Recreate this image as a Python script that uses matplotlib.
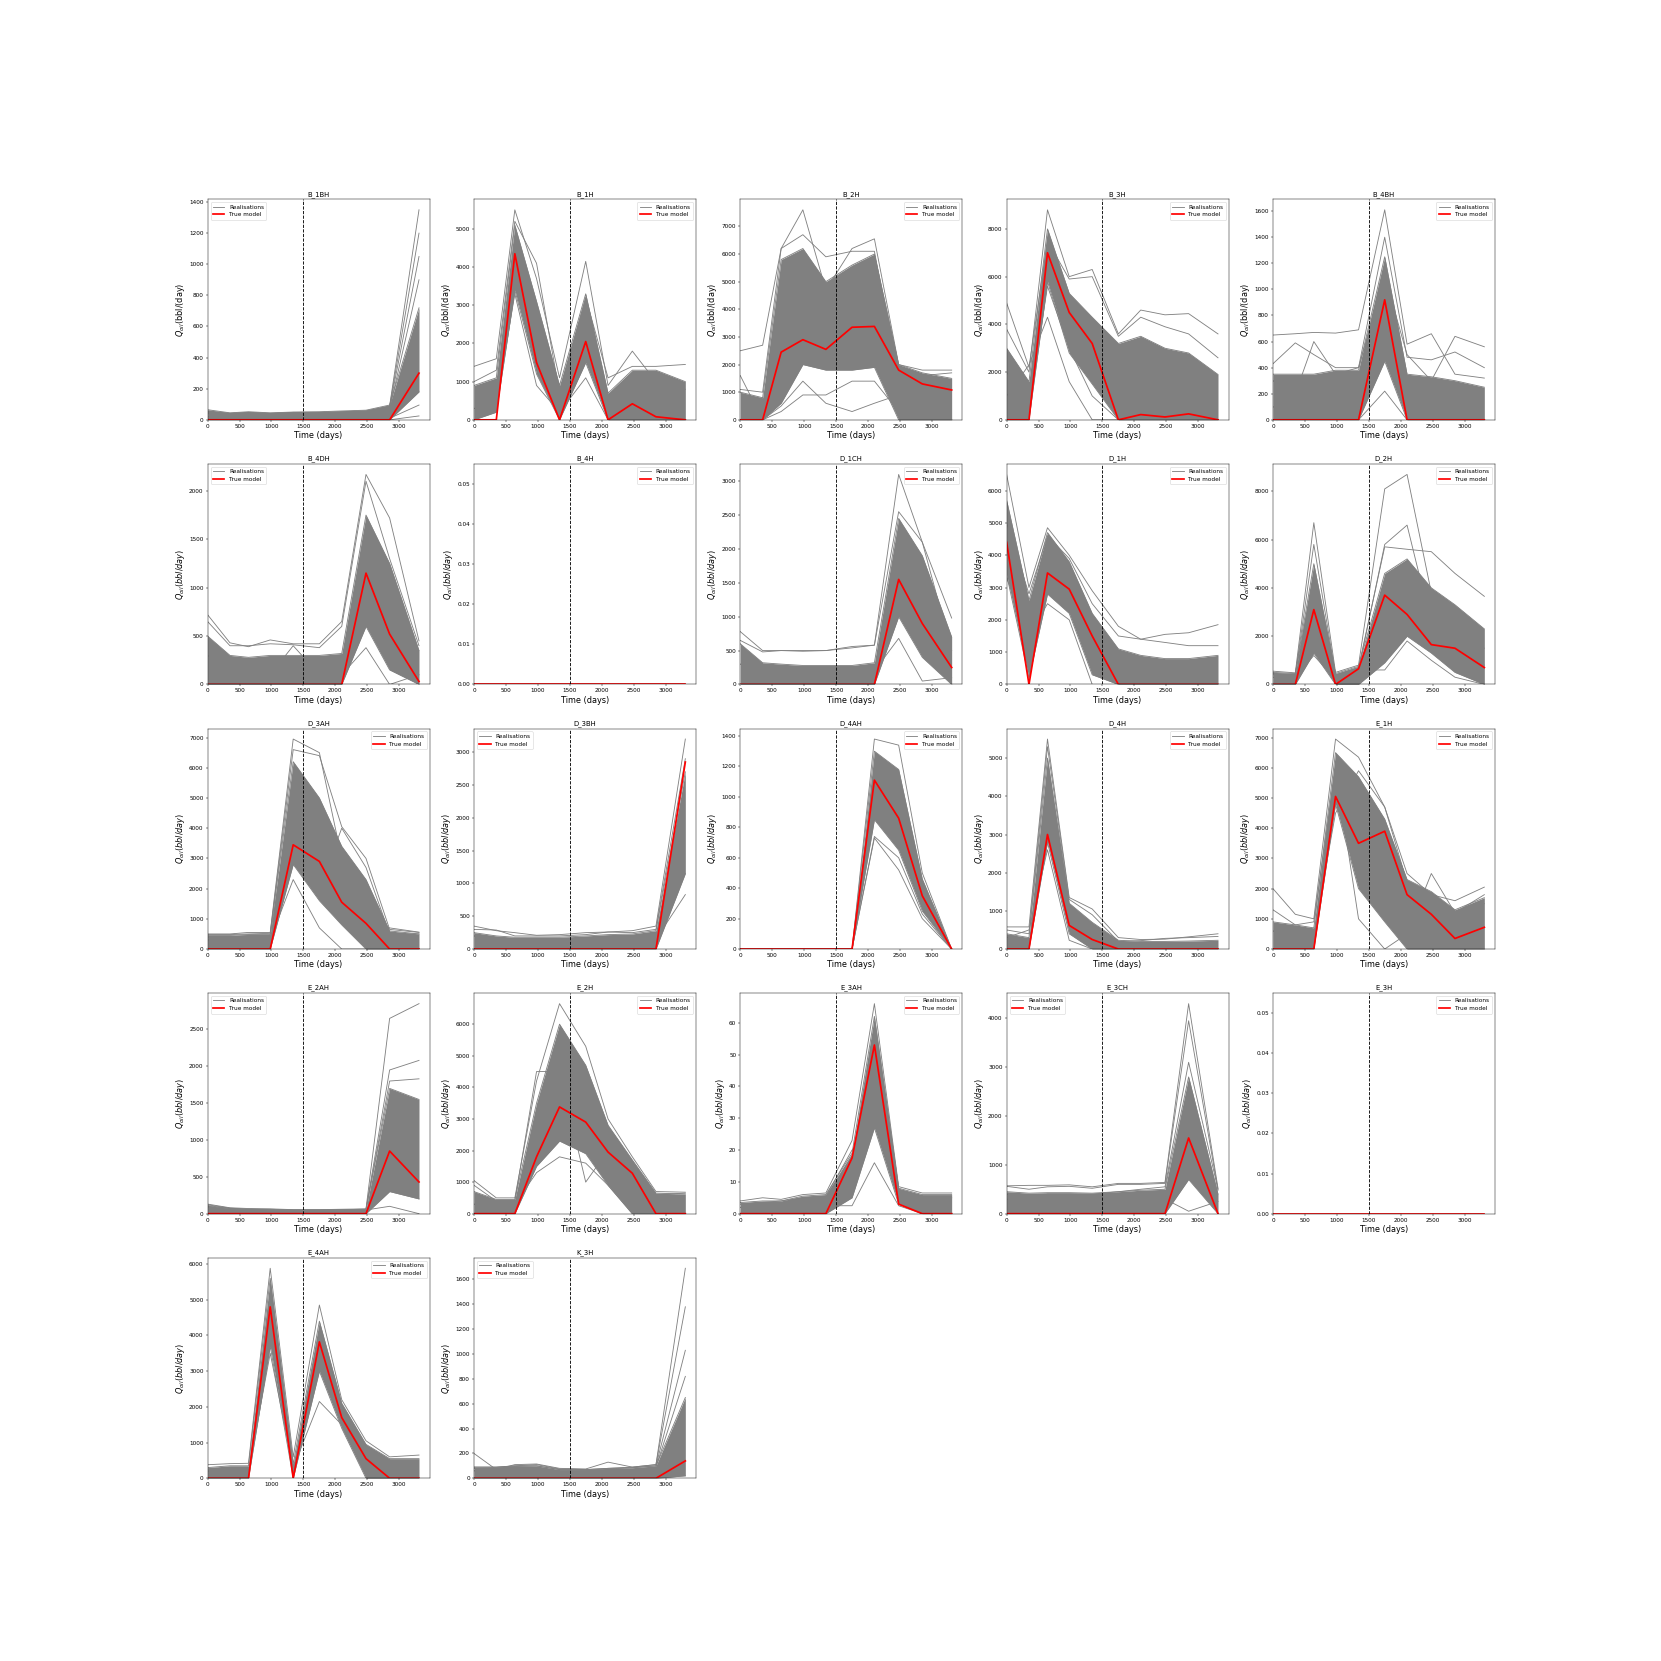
import matplotlib
matplotlib.use("Agg")
import matplotlib.pyplot as plt
from matplotlib.lines import Line2D

# report times (days)
times = [0, 350, 640, 980, 1340, 1750, 2100, 2480, 2850, 3310]
split_day = 1500

# ---- per well: true model, lower/upper realisation of dense core, extra realisations ----
B_1BH_true = [0, 0, 0, 0, 0, 0, 0, 0, 0, 300]
B_1BH_lo = [0, 0, 0, 0, 0, 0, 0, 0, 0, 180]
B_1BH_hi = [65, 45, 52, 45, 50, 52, 57, 62, 95, 720]
B_1BH_more = [[50, 40, 45, 40, 45, 45, 50, 55, 90, 1350], [55, 42, 48, 42, 48, 48, 52, 58, 85, 1200],
              [45, 38, 42, 38, 42, 42, 48, 50, 80, 1050], [40, 35, 40, 35, 40, 40, 45, 48, 70, 900],
              [20, 15, 15, 15, 15, 15, 18, 20, 10, 95], [10, 8, 8, 8, 8, 8, 8, 10, 0, 25]]

B_1H_true = [0, 0, 4350, 1500, 0, 2050, 0, 420, 80, 0]
B_1H_lo = [0, 200, 3400, 1200, 0, 1500, 0, 0, 0, 0]
B_1H_hi = [900, 1100, 5100, 3100, 900, 3300, 700, 1300, 1300, 1000]
B_1H_more = [[1400, 1600, 5500, 3700, 1100, 4150, 900, 1800, 1000, 800], [300, 400, 3300, 900, 200, 1100, 0, 100, 0, 0],
             [1000, 1300, 5200, 4100, 700, 3200, 1100, 1400, 1400, 1450]]

B_2H_true = [0, 0, 2450, 2900, 2550, 3350, 3380, 1800, 1300, 1080]
B_2H_lo = [0, 0, 600, 2000, 1800, 1800, 1900, 0, 0, 0]
B_2H_hi = [1000, 800, 5800, 6200, 5000, 5600, 6000, 2000, 1700, 1500]
B_2H_more = [[2500, 2700, 6200, 7600, 4700, 6200, 6550, 2000, 1800, 1800], [1600, 0, 300, 900, 900, 1400, 1400, 300, 100, 0],
             [0, 0, 500, 1400, 600, 300, 600, 900, 500, 0], [1100, 1000, 6200, 6700, 5900, 6100, 6100, 1500, 1600, 1700]]

B_3H_true = [0, 0, 7000, 4500, 3200, 0, 220, 120, 250, 0]
B_3H_lo = [0, 0, 5800, 2800, 1500, 0, 0, 0, 0, 0]
B_3H_hi = [3000, 1600, 8000, 5300, 4300, 3200, 3500, 3000, 2800, 1900]
B_3H_more = [[3800, 2000, 8800, 6000, 6300, 3600, 4600, 4400, 4450, 3600], [4900, 2200, 7500, 5900, 6000, 3500, 4300, 3900, 3600, 2600],
             [1000, 2300, 4300, 1600, 0, 0, 0, 0, 0, 0], [2000, 500, 5600, 3000, 1000, 0, 300, 600, 200, 0]]

B_4BH_true = [0, 0, 0, 0, 0, 920, 0, 0, 0, 0]
B_4BH_lo = [0, 0, 0, 0, 0, 450, 0, 0, 0, 0]
B_4BH_hi = [350, 350, 350, 380, 380, 1250, 350, 330, 300, 250]
B_4BH_more = [[650, 660, 670, 665, 690, 1610, 580, 660, 350, 320], [430, 590, 500, 400, 400, 1400, 480, 460, 520, 400],
              [300, 200, 600, 350, 400, 1100, 500, 300, 640, 560], [100, 50, 100, 100, 0, 220, 0, 50, 0, 0]]

B_4DH_true = [0, 0, 0, 0, 0, 0, 0, 1150, 520, 30]
B_4DH_lo = [0, 0, 0, 0, 0, 0, 0, 600, 150, 0]
B_4DH_hi = [500, 300, 280, 300, 300, 300, 320, 1750, 1250, 350]
B_4DH_more = [[720, 430, 390, 460, 420, 420, 650, 2170, 1720, 450], [650, 400, 400, 420, 410, 380, 600, 2100, 1300, 400],
              [300, 150, 200, 100, 400, 100, 100, 380, 0, 100]]

B_4H_true = [0, 0, 0, 0, 0, 0, 0, 0, 0, 0]
B_4H_lo = [0, 0, 0, 0, 0, 0, 0, 0, 0, 0]
B_4H_hi = [0, 0, 0, 0, 0, 0, 0, 0, 0, 0]
B_4H_more = []

D_1CH_true = [0, 0, 0, 0, 0, 0, 0, 1550, 900, 250]
D_1CH_lo = [0, 0, 0, 0, 0, 0, 0, 1000, 400, 0]
D_1CH_hi = [600, 320, 300, 280, 280, 280, 320, 2450, 1900, 700]
D_1CH_more = [[780, 500, 500, 500, 500, 540, 580, 3100, 2100, 980], [650, 480, 500, 490, 500, 560, 580, 2550, 2100, 500],
              [300, 200, 200, 200, 200, 200, 200, 680, 50, 100]]

D_1H_true = [4400, 0, 3450, 2950, 1500, 0, 0, 0, 0, 0]
D_1H_lo = [3400, 200, 2800, 2200, 300, 0, 0, 0, 0, 0]
D_1H_hi = [5700, 2600, 4700, 3800, 2200, 1100, 900, 800, 800, 900]
D_1H_more = [[6500, 3000, 4850, 4000, 2900, 1800, 1400, 1300, 1200, 1200], [5000, 2800, 4600, 3900, 2500, 1500, 1400, 1550, 1600, 1850],
             [3300, 1500, 2500, 2000, 0, 0, 0, 0, 0, 0]]

D_2H_true = [0, 0, 3100, 0, 650, 3700, 2900, 1650, 1500, 700]
D_2H_lo = [0, 0, 1300, 0, 0, 900, 2000, 1300, 500, 0]
D_2H_hi = [500, 450, 5000, 450, 750, 4600, 5200, 4000, 3300, 2300]
D_2H_more = [[550, 480, 6700, 500, 800, 8100, 8700, 3800, 2500, 1500], [400, 400, 5800, 400, 700, 5700, 5600, 5500, 4600, 3650],
             [300, 300, 1200, 200, 600, 600, 1800, 1000, 300, 0], [450, 420, 4500, 300, 600, 5800, 6600, 2500, 1500, 800]]

D_3AH_true = [0, 0, 0, 0, 3450, 2900, 1550, 850, 0, 0]
D_3AH_lo = [0, 0, 0, 0, 2800, 1600, 800, 0, 0, 0]
D_3AH_hi = [450, 450, 480, 480, 6200, 5000, 3400, 2300, 600, 500]
D_3AH_more = [[500, 500, 550, 550, 6950, 6500, 3000, 900, 700, 560], [480, 480, 500, 520, 6600, 6400, 4050, 3000, 650, 550],
              [300, 300, 300, 300, 2300, 700, 0, 0, 0, 0], [400, 400, 450, 450, 5200, 2000, 4000, 2700, 500, 500]]

D_3BH_true = [0, 0, 0, 0, 0, 0, 0, 0, 0, 2850]
D_3BH_lo = [0, 0, 0, 0, 0, 0, 0, 0, 0, 1150]
D_3BH_hi = [250, 200, 180, 180, 180, 200, 220, 230, 280, 2700]
D_3BH_more = [[350, 280, 250, 210, 220, 250, 260, 280, 350, 3200], [200, 150, 150, 150, 150, 150, 150, 150, 150, 830],
              [300, 290, 200, 200, 200, 220, 260, 250, 300, 2900]]

D_4AH_true = [0, 0, 0, 0, 0, 0, 1110, 860, 350, 0]
D_4AH_lo = [0, 0, 0, 0, 0, 0, 850, 650, 250, 0]
D_4AH_hi = [0, 0, 0, 0, 0, 0, 1300, 1180, 460, 0]
D_4AH_more = [[0, 0, 0, 0, 0, 0, 1380, 1340, 500, 0], [0, 0, 0, 0, 0, 0, 730, 520, 200, 0],
              [0, 0, 0, 0, 0, 0, 740, 600, 230, 0]]

D_4H_true = [0, 0, 3000, 620, 250, 0, 0, 0, 0, 0]
D_4H_lo = [0, 0, 2800, 400, 0, 0, 0, 0, 0, 0]
D_4H_hi = [400, 300, 5000, 1200, 700, 230, 200, 200, 210, 230]
D_4H_more = [[580, 580, 5500, 1350, 1050, 300, 250, 260, 320, 400], [300, 500, 2600, 230, 0, 0, 0, 0, 0, 0],
             [500, 400, 5300, 1300, 900, 200, 220, 280, 300, 330]]

E_1H_true = [0, 0, 0, 5050, 3500, 3900, 1800, 1150, 350, 720]
E_1H_lo = [0, 0, 0, 4800, 2000, 900, 0, 0, 0, 0]
E_1H_hi = [900, 800, 700, 6500, 5700, 4300, 2300, 1900, 1300, 1700]
E_1H_more = [[2000, 1150, 1000, 6950, 6350, 4700, 2500, 1800, 1600, 2050], [1300, 800, 900, 6000, 1000, 0, 500, 2500, 1200, 1800],
             [600, 400, 500, 4500, 5900, 4700, 2200, 1600, 1100, 1500]]

E_2AH_true = [0, 0, 0, 0, 0, 0, 0, 0, 850, 430]
E_2AH_lo = [0, 0, 0, 0, 0, 0, 0, 0, 300, 200]
E_2AH_hi = [110, 70, 60, 55, 50, 50, 55, 60, 1700, 1550]
E_2AH_more = [[130, 80, 70, 65, 55, 55, 60, 65, 2650, 2850], [120, 75, 60, 60, 50, 50, 55, 60, 1950, 2080],
              [100, 70, 55, 50, 45, 45, 50, 50, 1800, 1830], [90, 60, 50, 45, 40, 40, 45, 50, 100, 0]]

E_2H_true = [0, 0, 0, 1800, 3380, 2900, 1950, 1280, 0, 0]
E_2H_lo = [0, 0, 0, 1500, 2300, 1900, 900, 0, 0, 0]
E_2H_hi = [700, 450, 450, 3500, 6000, 4700, 2800, 1700, 650, 620]
E_2H_more = [[1050, 500, 500, 4200, 6650, 5300, 3000, 1800, 700, 680], [900, 400, 400, 4500, 4500, 1000, 2000, 1500, 600, 650],
             [300, 300, 300, 1300, 1800, 1600, 900, 0, 0, 0]]

E_3AH_true = [0, 0, 0, 0, 0, 17.5, 53, 3, 0, 0]
E_3AH_lo = [0, 0, 0, 0, 0, 5, 27, 3, 0, 0]
E_3AH_hi = [3.5, 4, 4, 5.5, 6, 19, 62, 8, 6, 6]
E_3AH_more = [[4, 5, 4.5, 6, 6.5, 23, 66, 8.5, 6.5, 6.5], [2, 2, 2, 2, 2.5, 2.5, 16, 2.5, 0, 0],
              [3, 3.5, 4, 5, 5.5, 20, 28, 7, 5, 5]]

E_3CH_true = [0, 0, 0, 0, 0, 0, 0, 0, 1550, 0]
E_3CH_lo = [0, 0, 0, 0, 0, 0, 0, 0, 700, 0]
E_3CH_hi = [450, 420, 430, 430, 420, 450, 480, 500, 2800, 400]
E_3CH_more = [[570, 580, 580, 590, 550, 620, 620, 640, 4300, 520], [560, 500, 550, 560, 520, 600, 600, 620, 3950, 480],
              [300, 200, 300, 300, 300, 300, 300, 300, 50, 250], [400, 300, 400, 400, 400, 450, 500, 550, 3100, 500]]

E_3H_true = [0, 0, 0, 0, 0, 0, 0, 0, 0, 0]
E_3H_lo = [0, 0, 0, 0, 0, 0, 0, 0, 0, 0]
E_3H_hi = [0, 0, 0, 0, 0, 0, 0, 0, 0, 0]
E_3H_more = []

E_4AH_true = [0, 0, 0, 4800, 0, 3820, 1700, 550, 0, 0]
E_4AH_lo = [0, 0, 0, 3700, 0, 3000, 1400, 0, 0, 0]
E_4AH_hi = [300, 350, 350, 5600, 400, 4400, 2100, 950, 550, 550]
E_4AH_more = [[380, 410, 420, 5880, 600, 4850, 2200, 1050, 600, 650], [200, 200, 200, 3500, 300, 2150, 1500, 600, 0, 0]]

K_3H_true = [0, 0, 0, 0, 0, 0, 0, 0, 0, 140]
K_3H_lo = [0, 0, 0, 0, 0, 0, 0, 0, 0, 20]
K_3H_hi = [90, 90, 100, 100, 70, 70, 80, 85, 100, 650]
K_3H_more = [[200, 70, 110, 115, 80, 75, 130, 90, 110, 1690], [90, 90, 100, 110, 75, 70, 80, 90, 110, 1380],
             [80, 85, 95, 100, 70, 65, 75, 85, 100, 1030], [60, 60, 70, 80, 60, 60, 60, 70, 90, 820]]

well_names = ["B_1BH", "B_1H", "B_2H", "B_3H", "B_4BH",
              "B_4DH", "B_4H", "D_1CH", "D_1H", "D_2H",
              "D_3AH", "D_3BH", "D_4AH", "D_4H", "E_1H",
              "E_2AH", "E_2H", "E_3AH", "E_3CH", "E_3H",
              "E_4AH", "K_3H"]
legend_locs = ["upper left", "upper right", "upper right", "upper right", "upper right",
               "upper left", "upper right", "upper right", "upper right", "upper right",
               "upper right", "upper left", "upper right", "upper right", "upper right",
               "upper left", "upper right", "upper right", "upper left", "upper right",
               "upper right", "upper left"]

panels = [
    (B_1BH_true, B_1BH_lo, B_1BH_hi, B_1BH_more), (B_1H_true, B_1H_lo, B_1H_hi, B_1H_more),
    (B_2H_true, B_2H_lo, B_2H_hi, B_2H_more), (B_3H_true, B_3H_lo, B_3H_hi, B_3H_more),
    (B_4BH_true, B_4BH_lo, B_4BH_hi, B_4BH_more), (B_4DH_true, B_4DH_lo, B_4DH_hi, B_4DH_more),
    (B_4H_true, B_4H_lo, B_4H_hi, B_4H_more), (D_1CH_true, D_1CH_lo, D_1CH_hi, D_1CH_more),
    (D_1H_true, D_1H_lo, D_1H_hi, D_1H_more), (D_2H_true, D_2H_lo, D_2H_hi, D_2H_more),
    (D_3AH_true, D_3AH_lo, D_3AH_hi, D_3AH_more), (D_3BH_true, D_3BH_lo, D_3BH_hi, D_3BH_more),
    (D_4AH_true, D_4AH_lo, D_4AH_hi, D_4AH_more), (D_4H_true, D_4H_lo, D_4H_hi, D_4H_more),
    (E_1H_true, E_1H_lo, E_1H_hi, E_1H_more), (E_2AH_true, E_2AH_lo, E_2AH_hi, E_2AH_more),
    (E_2H_true, E_2H_lo, E_2H_hi, E_2H_more), (E_3AH_true, E_3AH_lo, E_3AH_hi, E_3AH_more),
    (E_3CH_true, E_3CH_lo, E_3CH_hi, E_3CH_more), (E_3H_true, E_3H_lo, E_3H_hi, E_3H_more),
    (E_4AH_true, E_4AH_lo, E_4AH_hi, E_4AH_more), (K_3H_true, K_3H_lo, K_3H_hi, K_3H_more),
]

DPI = 1661 / 40
fig, axes = plt.subplots(5, 5, figsize=(40, 40))
axes = axes.ravel()

for i, ax in enumerate(axes):
    if i >= len(panels):
        ax.remove()
        continue
    true, lo, hi, more = panels[i]
    ax.fill_between(times, lo, hi, color="grey", lw=0)
    for r in [lo, hi] + more:
        ax.plot(times, r, color="grey", lw=1.5)
    ax.plot(times, true, color="red", lw=3)
    ax.axvline(split_day, color="black", ls="--", lw=1.5)
    ax.set_xlim(left=0)
    ax.set_ylim(bottom=0)
    ax.set_title(well_names[i], fontsize=12)
    ax.set_xlabel("Time (days)", fontsize=14)
    if i < 5:
        ax.set_ylabel(r"$Q_{oil}$(bbl/(day)", fontsize=14)
    else:
        ax.set_ylabel(r"$Q_{oil}(bbl/day)$", fontsize=14)
    handles = [Line2D([], [], color="grey", lw=1.5), Line2D([], [], color="red", lw=3)]
    ax.legend(handles, ["Realisations", "True model"], loc=legend_locs[i], fontsize=10)

fig.savefig("out.png", dpi=DPI)
